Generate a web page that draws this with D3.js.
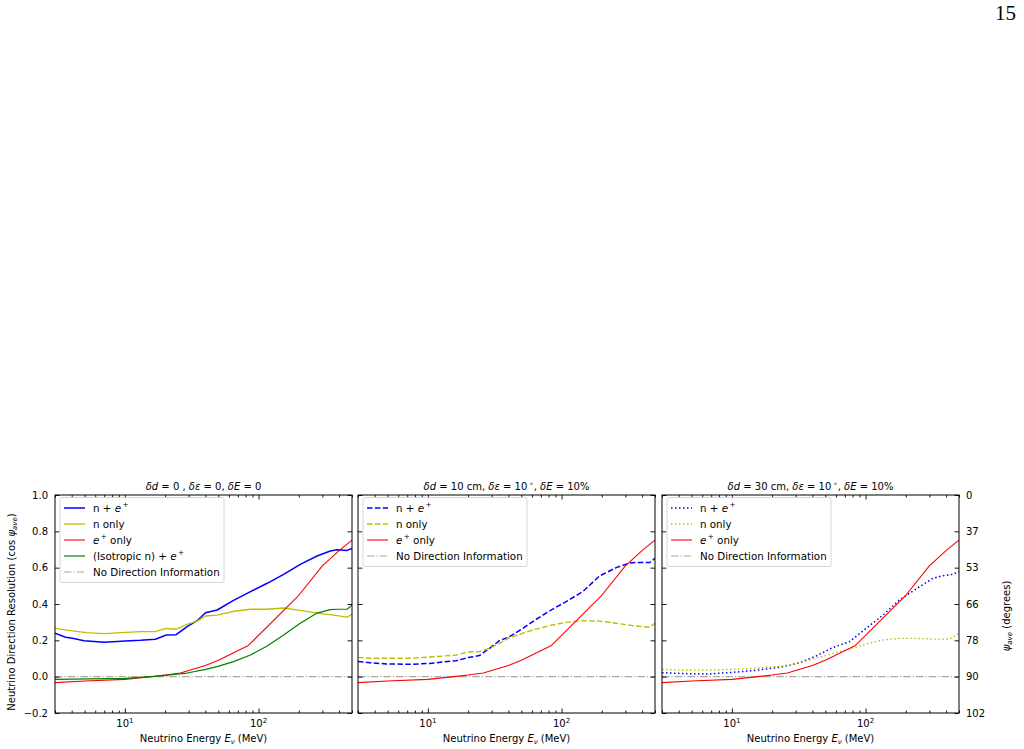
<!DOCTYPE html>
<html><head><meta charset="utf-8">
<script src="https://cdn.jsdelivr.net/npm/d3@7"></script>
<style>body{margin:0;background:#fff} svg{display:block} text{font-family:"DejaVu Sans",sans-serif;fill:#000}</style>
</head><body><svg id="c" width="1024" height="749"></svg>
<script>
// ---------- data ----------
const xDomain = [3, 500];
const yDomain = [-0.2, 1.0];
const yTicks = [-0.2, 0, 0.2, 0.4, 0.6, 0.8, 1.0];
const yTickLabels = ["\u22120.2", "0.0", "0.2", "0.4", "0.6", "0.8", "1.0"];
const rightTickLabels = ["102", "90", "78", "66", "53", "37", "0"];
const xMajorTicks = [10, 100];
const xMajorExps = ["1", "2"];

// e+ only (same in all panels)
const eplusE = [3, 5, 10, 17, 20, 26, 40, 50, 84, 200, 300, 400, 500];
const eplusV = [-0.033, -0.024, -0.015, 0.003, 0.009, 0.02, 0.062, 0.09, 0.172, 0.448, 0.61, 0.694, 0.752];

// panel 1 : no smearing
const p1BothE = [3.0, 3.6, 4.05, 4.95, 7.0, 10.1, 13.1, 16.9, 20.4, 24.2, 29.2, 34.7, 40.1, 49, 65, 87, 116, 154, 205, 274, 344, 386, 459, 500];
const p1BothV = [0.239, 0.217, 0.211, 0.198, 0.189, 0.196, 0.200, 0.206, 0.229, 0.231, 0.275, 0.308, 0.352, 0.367, 0.420, 0.468, 0.514, 0.563, 0.618, 0.664, 0.692, 0.699, 0.695, 0.706];
const p1NE = [3.0, 3.6, 4.2, 5.2, 7.0, 10.1, 13.1, 16.9, 20.4, 24.2, 29.2, 34.7, 40.1, 49, 65, 87, 116, 154, 205, 274, 366, 459, 500];
const p1NV = [0.266, 0.257, 0.251, 0.242, 0.237, 0.244, 0.248, 0.248, 0.266, 0.261, 0.288, 0.306, 0.334, 0.339, 0.360, 0.371, 0.371, 0.378, 0.365, 0.350, 0.339, 0.328, 0.343];
const p1IsoE = [3.0, 10.1, 16.9, 29.2, 40.1, 49, 65, 87, 116, 154, 205, 274, 344, 386, 459, 500];
const p1IsoV = [-0.015, -0.009, 0.002, 0.020, 0.040, 0.055, 0.083, 0.119, 0.169, 0.229, 0.294, 0.350, 0.369, 0.371, 0.371, 0.394];

// panel 2 : 10 cm, 10 deg, 10%
const p2BothE = [3.0, 3.67, 4.9, 7.3, 10.3, 16.3, 19.9, 24.3, 28.9, 34.3, 40.8, 51.3, 64.5, 81.1, 108, 144, 192, 256, 322, 382, 454, 500];
const p2BothV = [0.083, 0.077, 0.070, 0.068, 0.073, 0.088, 0.105, 0.116, 0.156, 0.198, 0.220, 0.266, 0.316, 0.361, 0.413, 0.468, 0.554, 0.600, 0.626, 0.629, 0.628, 0.651];
const p2NE = [3.0, 3.67, 4.9, 7.3, 10.3, 16.3, 19.9, 24.3, 28.9, 34.3, 40.8, 51.3, 64.5, 81.1, 108, 144, 192, 256, 341, 454, 500];
const p2NV = [0.106, 0.101, 0.101, 0.101, 0.108, 0.119, 0.136, 0.138, 0.156, 0.183, 0.215, 0.239, 0.262, 0.281, 0.299, 0.308, 0.306, 0.294, 0.281, 0.272, 0.294];

// panel 3 : 30 cm, 10 deg, 10%
const p3BothE = [3.0, 4.3, 6.8, 10.2, 15.2, 24.1, 32.1, 42.7, 56.9, 75.8, 101, 135, 179, 239, 318, 378, 449, 500];
const p3BothV = [0.022, 0.017, 0.015, 0.024, 0.035, 0.055, 0.077, 0.114, 0.160, 0.193, 0.266, 0.339, 0.422, 0.483, 0.541, 0.556, 0.563, 0.578];
const p3NE = [3.0, 4.3, 6.8, 10.2, 15.2, 24.1, 32.1, 42.7, 56.9, 75.8, 101, 135, 179, 239, 318, 424, 500];
const p3NV = [0.040, 0.035, 0.037, 0.040, 0.046, 0.059, 0.077, 0.101, 0.128, 0.152, 0.180, 0.202, 0.211, 0.211, 0.207, 0.206, 0.239];

const noDirE = [3, 500];
const noDirV = [0, 0];

// titles as [text, style] segments: i = italic, sup = superscript
const panelTitles = [
  [["\u03b4d", "i"], [" = 0 , ", ""], ["\u03b4\u03b5", "i"], [" = 0, ", ""], ["\u03b4E", "i"], [" = 0", ""]],
  [["\u03b4d", "i"], [" = 10 cm, ", ""], ["\u03b4\u03b5", "i"], [" = 10\u2009", ""], ["\u2218", "sup"], [", ", ""], ["\u03b4E", "i"], [" = 10%", ""]],
  [["\u03b4d", "i"], [" = 30 cm, ", ""], ["\u03b4\u03b5", "i"], [" = 10\u2009", ""], ["\u2218", "sup"], [", ", ""], ["\u03b4E", "i"], [" = 10%", ""]]
];
const labelBoth = [["n + ", ""], ["e", "i"], ["\u2009+", "sup"]];
const labelN = [["n only", ""]];
const labelE = [["e", "i"], ["\u2009+", "sup"], [" only", ""]];
const labelIso = [["(Isotropic n) + ", ""], ["e", "i"], ["\u2009+", "sup"]];
const labelNoDir = [["No Direction Information", ""]];

const xLabel = [["Neutrino Energy ", ""], ["E", "i"], ["\u03bd", "isub"], [" (MeV)", ""]];
const yLabel = [["Neutrino Direction Resolution (cos ", ""], ["\u03c8", "i"], ["ave", "isub"], [")", ""]];
const yRightLabel = [["\u03c8", "i"], ["ave", "isub"], [" (degrees)", ""]];

// ---------- styles ----------
const C = {blue: "#0000ff", yel: "#bfbf00", red: "#ff0000", green: "#008000", gray: "#a9a9a9"};
const DASH = {solid: null, dashed: "5.5,2.4", dotted: "1.5,2.5", dashdot: "7.5,2,1.2,2"};

const panels = [
  {left: 55, series: [
    {e: p1BothE, v: p1BothV, c: C.blue, w: 1.5, d: "solid", lab: labelBoth},
    {e: p1NE, v: p1NV, c: C.yel, w: 1.3, d: "solid", lab: labelN},
    {e: eplusE, v: eplusV, c: C.red, w: 1.1, d: "solid", lab: labelE},
    {e: p1IsoE, v: p1IsoV, c: C.green, w: 1.2, d: "solid", lab: labelIso},
    {e: noDirE, v: noDirV, c: C.gray, w: 1.2, d: "dashdot", lab: labelNoDir}]},
  {left: 358, series: [
    {e: p2BothE, v: p2BothV, c: C.blue, w: 1.5, d: "dashed", lab: labelBoth},
    {e: p2NE, v: p2NV, c: C.yel, w: 1.4, d: "dashed", lab: labelN},
    {e: eplusE, v: eplusV, c: C.red, w: 1.1, d: "solid", lab: labelE},
    {e: noDirE, v: noDirV, c: C.gray, w: 1.2, d: "dashdot", lab: labelNoDir}]},
  {left: 662, series: [
    {e: p3BothE, v: p3BothV, c: C.blue, w: 1.5, d: "dotted", lab: labelBoth},
    {e: p3NE, v: p3NV, c: C.yel, w: 1.4, d: "dotted", lab: labelN},
    {e: eplusE, v: eplusV, c: C.red, w: 1.1, d: "solid", lab: labelE},
    {e: noDirE, v: noDirV, c: C.gray, w: 1.2, d: "dashdot", lab: labelNoDir}]}
];

// ---------- drawing ----------
const svg = d3.select("#c");
const W = 297, TOP = 495, BOT = 713;
const FS = 10;
const LFS = 10.3;

function rich(textSel, segs, fs) {
  let off = 0;
  segs.forEach(([t, st]) => {
    const ts = textSel.append("tspan").text(t);
    let target = 0;
    if (st === "sup") { target = -0.42 * fs; ts.attr("font-size", fs * 0.7); }
    else if (st === "isub") { target = 0.22 * fs; ts.attr("font-size", fs * 0.7).attr("font-style", "italic"); }
    else if (st === "i") ts.attr("font-style", "italic");
    if (target !== off) { ts.attr("dy", target - off); off = target; }
  });
}

svg.append("text").attr("x", 1016).attr("y", 20).attr("text-anchor", "end")
  .style("font-family", "'Liberation Serif',serif").attr("font-size", 21).text("15");

const y = d3.scaleLinear().domain(yDomain).range([BOT, TOP]);

panels.forEach((p, pi) => {
  const x = d3.scaleLog().domain(xDomain).range([p.left, p.left + W]);
  const g = svg.append("g");
  const clipId = "clip" + pi;
  svg.append("clipPath").attr("id", clipId).append("rect")
    .attr("x", p.left).attr("y", TOP).attr("width", W).attr("height", BOT - TOP);

  // lines
  const line = d3.line().x(d => x(d[0])).y(d => y(d[1]));
  const lg = g.append("g").attr("clip-path", `url(#${clipId})`);
  const order = p.series.slice().sort((a, b) => (a.d === "dashdot" ? -1 : 0) - (b.d === "dashdot" ? -1 : 0));
  order.forEach(s => {
    lg.append("path").datum(s.e.map((e, i) => [e, s.v[i]]))
      .attr("d", line).attr("fill", "none").attr("stroke", s.c)
      .attr("stroke-width", s.w).attr("stroke-dasharray", DASH[s.d])
      .attr("stroke-linejoin", "round");
  });

  // axes (ticks inward on all sides)
  const minorTicks = x.ticks().filter(t => !xMajorTicks.includes(t));
  const mk = (axisFn, scale, vals, len) => axisFn(scale).tickValues(vals).tickSize(-len).tickFormat("");
  const axB = g.append("g").attr("transform", `translate(0,${BOT})`);
  axB.call(mk(d3.axisBottom, x, xMajorTicks, 4.5));
  axB.append("g").call(mk(d3.axisBottom, x, minorTicks, 2.5));
  const axT = g.append("g").attr("transform", `translate(0,${TOP})`);
  axT.call(mk(d3.axisTop, x, xMajorTicks, 4.5));
  axT.append("g").call(mk(d3.axisTop, x, minorTicks, 2.5));
  g.append("g").attr("transform", `translate(${p.left},0)`).call(mk(d3.axisLeft, y, yTicks, 4.5));
  g.append("g").attr("transform", `translate(${p.left + W},0)`).call(mk(d3.axisRight, y, yTicks, 4.5));
  g.selectAll(".domain").remove();
  g.selectAll(".tick line").attr("stroke", "#000").attr("stroke-width", 0.9);

  // frame
  g.append("rect").attr("x", p.left).attr("y", TOP).attr("width", W).attr("height", BOT - TOP)
    .attr("fill", "none").attr("stroke", "#000").attr("stroke-width", 1);

  // x tick labels 10^n
  xMajorTicks.forEach((t, i) => {
    const tx = g.append("text").attr("x", x(t)).attr("y", BOT + 14).attr("text-anchor", "middle").attr("font-size", FS);
    tx.append("tspan").text("10");
    tx.append("tspan").attr("font-size", 7).attr("dy", -4.5).text(xMajorExps[i]);
  });
  // x label
  const xl = g.append("text").attr("x", p.left + W / 2).attr("y", BOT + 29).attr("text-anchor", "middle").attr("font-size", FS);
  rich(xl, xLabel, FS);

  // title
  const tt = g.append("text").attr("x", p.left + W / 2).attr("y", TOP - 5).attr("text-anchor", "middle").attr("font-size", FS);
  rich(tt, panelTitles[pi], FS);

  if (pi === 0) {
    yTicks.forEach((t, i) => {
      g.append("text").attr("x", p.left - 7).attr("y", y(t)).attr("dy", "0.35em")
        .attr("text-anchor", "end").attr("font-size", FS).text(yTickLabels[i]);
    });
    const yl = g.append("text").attr("transform", `translate(15,612) rotate(-90)`)
      .attr("text-anchor", "middle").attr("font-size", FS);
    rich(yl, yLabel, FS);
  }
  if (pi === 2) {
    yTicks.forEach((t, i) => {
      g.append("text").attr("x", p.left + W + 7).attr("y", y(t)).attr("dy", "0.35em")
        .attr("text-anchor", "start").attr("font-size", FS).text(rightTickLabels[i]);
    });
    const yr = g.append("text").attr("transform", `translate(1010,616) rotate(-90)`)
      .attr("text-anchor", "middle").attr("font-size", FS);
    rich(yr, yRightLabel, FS);
  }

  // legend
  const lx = p.left + 5, ly = TOP + 2.5, rowH = 16;
  const n = p.series.length;
  const leg = g.append("g");
  leg.append("rect").attr("x", lx).attr("y", ly).attr("width", 164).attr("height", n * rowH + 5)
    .attr("rx", 2).attr("fill", "#fff").attr("fill-opacity", 0.8).attr("stroke", "#cccccc").attr("stroke-width", 0.8);
  p.series.forEach((s, i) => {
    const cy = ly + 10.5 + i * rowH;
    leg.append("line").attr("x1", lx + 4).attr("x2", lx + 25).attr("y1", cy).attr("y2", cy)
      .attr("stroke", s.c).attr("stroke-width", s.w).attr("stroke-dasharray", DASH[s.d]);
    const t = leg.append("text").attr("x", lx + 33).attr("y", cy).attr("dy", "0.35em").attr("font-size", LFS);
    rich(t, s.lab, LFS);
  });
});
</script></body></html>
